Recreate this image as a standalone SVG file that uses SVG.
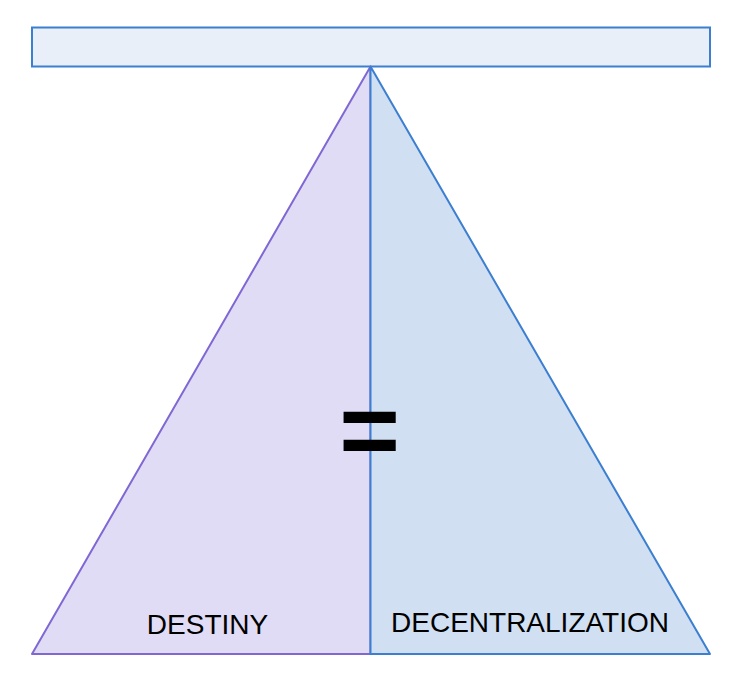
<svg xmlns="http://www.w3.org/2000/svg" width="738" height="686" viewBox="0 0 738 686">
<style>
.lbl{font-family:"Liberation Sans",Arial,sans-serif;font-size:28px;fill:#000;text-anchor:middle}
.eq{font-family:"Liberation Sans",Arial,sans-serif;font-size:104px;font-weight:bold;fill:#000;text-anchor:middle}
</style>
<rect width="738" height="686" fill="#fff"/>
<g id="bar"><rect x="32" y="27.5" width="678" height="39" fill="#e8eff9" stroke="#3c7fd0" stroke-width="2"/></g>
<g id="destiny">
<polygon points="370.5,66.5 32,654 370.5,654" fill="#e0dcf5" stroke="#8067d3" stroke-width="2" stroke-linejoin="round"/>
<text class="lbl" x="207.5" y="634">DESTINY</text>
</g>
<g id="decentralization">
<polygon points="370.5,66.5 370.5,654 710,654" fill="#d0dff2" stroke="#3c7fd0" stroke-width="2" stroke-linejoin="round"/>
<text class="lbl" x="530" y="632">DECENTRALIZATION</text>
</g>
<g id="equals"><text class="eq" x="369.5" y="466">=</text></g>
<g id="connectors"></g>
</svg>
